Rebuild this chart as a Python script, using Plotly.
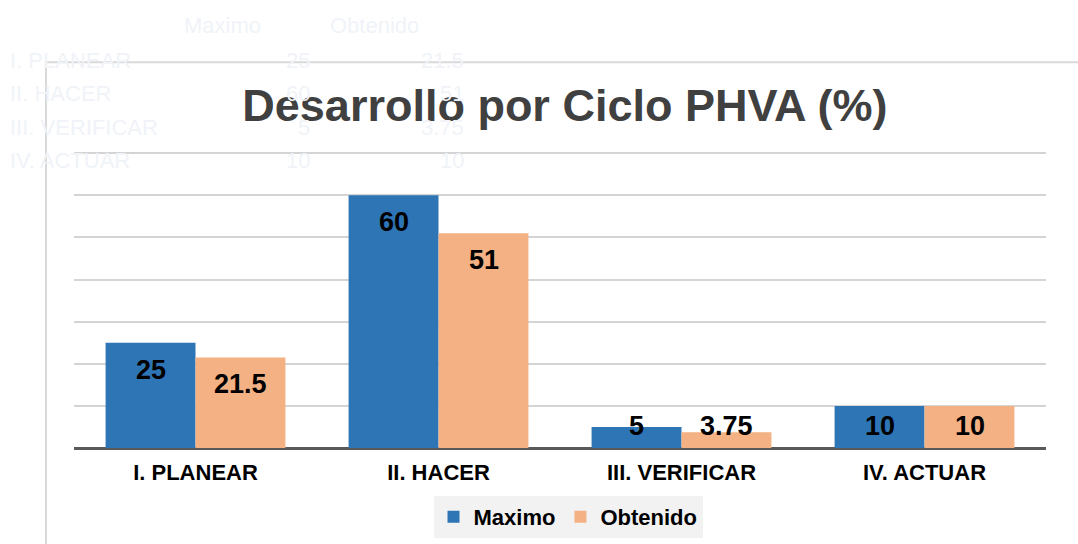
import plotly.graph_objects as go

categories = ["I. PLANEAR", "II. HACER", "III. VERIFICAR", "IV. ACTUAR"]
maximo = [25, 60, 5, 10]
obtenido = [21.5, 51, 3.75, 10]
series_names = ["Maximo", "Obtenido"]
value_text_max = ["25", "60", "5", "10"]
value_text_obt = ["21.5", "51", "3.75", "10"]
title_text = "Desarrollo por Ciclo PHVA (%)"

BLUE = "#2E75B6"
ORANGE = "#F4B183"
FONT = "Liberation Sans"
GHOST = "#f0f3f8"

# plot area in pixels (y range 0..71 so that the 70 gridline shows)
W, H = 1078, 544
L, R, B = 74, 1046, 448
PX_PER_UNIT = 295 / 70
YMAX = 71
T = B - YMAX * PX_PER_UNIT


def px(xp):
    return (xp - L) / (R - L)


def py(yp):
    return (B - yp) / (B - T)


fig = go.Figure()
fig.add_trace(go.Bar(x=categories, y=maximo, name=series_names[0],
                     marker=dict(color=BLUE, line=dict(width=0))))
fig.add_trace(go.Bar(x=categories, y=obtenido, name=series_names[1],
                     marker=dict(color=ORANGE, line=dict(width=0))))

annotations = []
# value labels (inside end, kept near the baseline for short bars)
for vals, txts, shift in ((maximo, value_text_max, -45), (obtenido, value_text_obt, 45)):
    for c, v, t in zip(categories, vals, txts):
        annotations.append(dict(
            x=c, y=max(v - 6.4, 5.2), xref="x", yref="y", xshift=shift,
            text=t, showarrow=False, yanchor="middle",
            font=dict(family=FONT, size=27, color="#000000", weight="bold")))


def ghost(x, y, text, anchor):
    return dict(x=px(x), y=py(y), xref="paper", yref="paper", text=text,
                showarrow=False, xanchor=anchor, yanchor="middle",
                font=dict(family=FONT, size=22, color=GHOST))


# faint source table in the top-left corner
annotations.append(ghost(222, 25, series_names[0], "center"))
annotations.append(ghost(374, 25, series_names[1], "center"))
row_y = [60, 93, 127, 160]
for c, t1, t2, ry in zip(categories, value_text_max, value_text_obt, row_y):
    annotations.append(ghost(8, ry, c, "left"))
    annotations.append(ghost(312, ry, t1, "right"))
    annotations.append(ghost(466, ry, t2, "right"))

fig.update_layout(
    width=W, height=H,
    margin=dict(l=L, r=W - R, t=T, b=H - B, autoexpand=False),
    paper_bgcolor="white", plot_bgcolor="white",
    barmode="group", bargap=0.26, bargroupgap=0,
    title=dict(text=title_text, x=0.524, xanchor="center", xref="container",
               y=1 - 105 / H, yanchor="middle", yref="container",
               font=dict(family=FONT, size=45, color="#404040", weight="bold")),
    xaxis=dict(showgrid=False, showline=False, ticks="", automargin=False,
               ticklabelstandoff=9,
               tickfont=dict(family=FONT, size=22, color="#000000", weight="bold")),
    yaxis=dict(range=[0, YMAX], dtick=10, showticklabels=False, automargin=False,
               gridcolor="#d4d4d4", gridwidth=1.5,
               zeroline=True, zerolinecolor="#595959", zerolinewidth=3),
    legend=dict(orientation="h", x=px(568), xanchor="center",
                y=py(517), yanchor="middle",
                bgcolor="#f2f2f2", itemwidth=30,
                font=dict(family=FONT, size=22, color="#000000", weight="bold")),
    annotations=annotations,
    shapes=[
        dict(type="line", xref="paper", yref="paper",
             x0=px(46), x1=px(1080), y0=py(62), y1=py(62),
             line=dict(color="#d9d9d9", width=2)),
        dict(type="line", xref="paper", yref="paper",
             x0=px(46), x1=px(46), y0=py(62), y1=py(546),
             line=dict(color="#d9d9d9", width=2)),
    ],
)

fig.write_html(
    "out.html",
    config={"displayModeBar": False},
    post_script="document.body.style.margin='0';document.body.style.padding='0';",
)
